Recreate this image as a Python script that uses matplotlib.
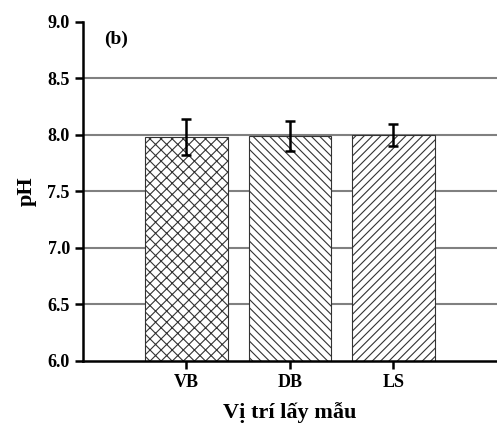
import numpy as np
import matplotlib.pyplot as plt

plt.rcParams['font.family'] = ['Liberation Serif', 'DejaVu Serif']
plt.rcParams['font.weight'] = 'bold'
plt.rcParams['hatch.linewidth'] = 0.8

sites = ['VB', 'DB', 'LS']
ph_mean = [7.98, 7.99, 8.00]
ph_err = [0.16, 0.13, 0.10]
hatches = ['xxx', '\\\\\\\\', '////']
grid_levels = [6.5, 7.0, 7.5, 8.0, 8.5]

fig = plt.figure(figsize=(4.97, 4.23), dpi=100)
ax = fig.add_axes([0.167, 0.147, 0.833, 0.801])

x = np.arange(1, len(sites) + 1)
for g in grid_levels:
    ax.axhline(g, color='#808080', linewidth=1.5, zorder=1)
for xi, m, h in zip(x, ph_mean, hatches):
    ax.bar(xi, m - 6.0, bottom=6.0, width=0.8, color='white',
           edgecolor='#333333', linewidth=0.8, hatch=h, zorder=2)
ax.errorbar(x, ph_mean, yerr=ph_err, fmt='none', ecolor='black',
            elinewidth=1.8, capsize=3.3, capthick=1.8, zorder=3)

ax.set_xlim(0, 4)
ax.set_ylim(6.0, 9.0)
yt = np.arange(6.0, 9.01, 0.5)
ax.set_yticks(yt)
ax.set_yticklabels([f'{v:.1f}' for v in yt])
ax.set_xticks(x)
ax.set_xticklabels(sites)

for s in ['top', 'right']:
    ax.spines[s].set_visible(False)
for s in ['left', 'bottom']:
    ax.spines[s].set_linewidth(1.8)
ax.tick_params(direction='out', length=6, width=1.8, labelsize=13)

ax.set_ylabel('pH', fontsize=16, fontweight='bold', labelpad=8)
ax.set_xlabel('Vị trí lấy mẫu', fontsize=16, fontweight='bold', labelpad=8)
ax.text(0.2, 8.85, '(b)', fontsize=14, fontweight='bold', ha='left', va='center')

fig.savefig('out.png', dpi=100)
